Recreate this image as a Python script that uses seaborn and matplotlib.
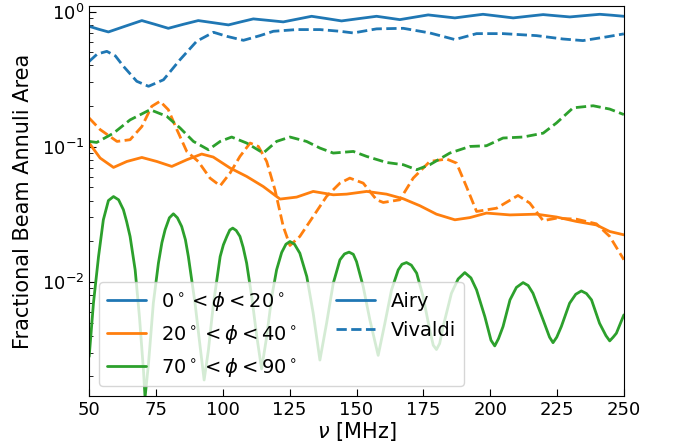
import matplotlib
matplotlib.use("Agg")
import matplotlib.pyplot as plt
from matplotlib.lines import Line2D
import seaborn as sns
import pandas as pd

# ---------------- data ----------------
# Airy, 0 < phi < 20
freq_airy_0_20 = [50.0, 53.6, 57.2, 63.5, 69.7, 74.6, 79.6, 85.2, 90.8, 96.5, 102.1,
                  106.8, 111.4, 117.0, 122.6, 127.9, 133.2, 138.8, 144.4, 151.0, 157.5,
                  161.9, 166.2, 171.5, 176.8, 181.8, 186.8, 192.0, 197.3, 203.0, 208.6,
                  214.2, 219.8, 224.8, 229.8, 235.4, 241.0, 245.5, 250.0]
airy_0_20 = [0.778, 0.740, 0.707, 0.780, 0.858, 0.805, 0.752, 0.805, 0.858, 0.827, 0.797,
             0.840, 0.883, 0.861, 0.839, 0.880, 0.923, 0.888, 0.853, 0.888, 0.923,
             0.897, 0.872, 0.908, 0.945, 0.921, 0.898, 0.926, 0.955, 0.926, 0.898,
             0.924, 0.950, 0.931, 0.913, 0.934, 0.955, 0.940, 0.923]

# Vivaldi, 0 < phi < 20
freq_viv_0_20 = [50.0, 53.0, 56.6, 59.8, 62.8, 67.8, 72.2, 77.8, 84.0, 90.2, 96.5, 101.5,
                 107.7, 113.9, 118.9, 127.6, 136.3, 143.8, 148.8, 157.5, 167.5, 177.4,
                 186.8, 194.9, 204.8, 217.3, 227.2, 234.7, 243.5, 250.0]
viv_0_20 = [0.428, 0.485, 0.508, 0.470, 0.394, 0.305, 0.280, 0.313, 0.441, 0.603, 0.703,
            0.656, 0.613, 0.664, 0.715, 0.736, 0.736, 0.715, 0.695, 0.745, 0.752, 0.695,
            0.621, 0.687, 0.687, 0.664, 0.627, 0.610, 0.650, 0.684]

# Airy, 20 < phi < 40
freq_airy_20_40 = [50.0, 54.1, 59.1, 64.1, 69.7, 75.3, 80.9, 86.5, 92.1, 96.4, 102.7,
                   108.9, 115.1, 121.4, 127.6, 133.8, 141.3, 146.3, 153.8, 161.2, 167.5,
                   173.7, 179.9, 186.8, 192.4, 198.6, 207.4, 217.3, 224.8, 232.3, 239.7,
                   244.7, 250.0]
airy_20_40 = [0.1065, 0.0825, 0.0703, 0.0778, 0.0833, 0.0778, 0.0715, 0.0801, 0.0883,
              0.0839, 0.0696, 0.0603, 0.0508, 0.0410, 0.0424, 0.0467, 0.0441, 0.0446,
              0.0467, 0.0446, 0.0412, 0.0366, 0.0317, 0.0288, 0.0299, 0.0323, 0.0313,
              0.0317, 0.0302, 0.0280, 0.0264, 0.0236, 0.0223]

# Vivaldi, 20 < phi < 40
freq_viv_20_40 = [50.0, 54.1, 60.4, 65.3, 69.7, 73.4, 76.5, 79.6, 82.8, 86.5, 90.8,
                  95.2, 99.0, 102.7, 106.4, 110.2, 113.3, 116.4, 119.5, 122.6, 125.1,
                  128.8, 133.8, 138.8, 143.8, 147.5, 152.5, 157.5, 160.0, 166.2, 171.2,
                  177.4, 183.7, 187.4, 191.1, 194.9, 202.4, 210.4, 214.8, 219.8, 224.8,
                  232.3, 239.7, 244.7, 250.0]
viv_20_40 = [0.163, 0.134, 0.1095, 0.1127, 0.141, 0.199, 0.217, 0.188, 0.134, 0.0923,
             0.0778, 0.0586, 0.0514, 0.0639, 0.0848, 0.1065, 0.1005, 0.0778, 0.048,
             0.0257, 0.0186, 0.0217, 0.0305, 0.0429, 0.0538, 0.0586, 0.0538, 0.0405,
             0.0387, 0.0405, 0.0586, 0.0778, 0.0811, 0.0757, 0.0508, 0.0332, 0.0351,
             0.0436, 0.0383, 0.0284, 0.0296, 0.0291, 0.0269, 0.0217, 0.0146]

# Airy, 70 < phi < 90
freq_airy_70_90 = [50.0, 51.6, 53.5, 55.3, 57.2, 59.1, 61.0, 62.8, 64.0, 65.3, 67.2,
                   68.8, 70.3, 70.9, 72.2, 74.0, 75.9, 77.2, 78.4, 80.0, 81.5, 83.0,
                   84.6, 86.0, 87.1, 89.6, 91.5, 93.0, 94.6, 96.5, 99.0, 100.2, 101.5,
                   102.6, 103.7, 105.0, 106.4, 107.6, 108.9, 110.8, 112.7, 114.5, 116.4,
                   118.3, 120.1, 122.0, 123.6, 125.1, 126.8, 128.8, 131.4, 133.8, 136.3,
                   138.8, 141.3, 143.8, 145.5, 147.2, 148.8, 150.0, 152.5, 155.0, 158.1,
                   160.6, 163.1, 165.6, 167.0, 168.7, 170.5, 172.5, 174.9, 177.4, 178.7,
                   179.9, 181.1, 182.4, 185.5, 188.0, 190.5, 192.8, 194.9, 198.0, 200.3,
                   201.7, 203.1, 204.8, 207.4, 209.8, 212.3, 214.2, 216.0, 219.8, 222.2,
                   223.5, 224.9, 226.6, 229.7, 232.0, 234.1, 236.0, 237.9, 240.9, 243.3,
                   244.7, 246.0, 247.2, 250.0]
airy_70_90 = [0.0028, 0.00697, 0.0154, 0.0288, 0.0400, 0.0428, 0.0405, 0.0342, 0.0280,
              0.0217, 0.01227, 0.00553, 0.00223, 0.0014, 0.0025, 0.00697, 0.01377, 0.0195,
              0.0243, 0.0298, 0.0319, 0.0298, 0.0257, 0.0205, 0.0154, 0.00695, 0.00332,
              0.00188, 0.00313, 0.00695, 0.0154, 0.0188, 0.0217, 0.0242, 0.0250, 0.0240,
              0.0217, 0.0180, 0.01377, 0.00778, 0.00394, 0.00227, 0.00394, 0.00778,
              0.01227, 0.0165, 0.0190, 0.0199, 0.0190, 0.0163, 0.01094, 0.00586, 0.00264,
              0.00494, 0.00977, 0.01456, 0.0161, 0.0166, 0.0160, 0.01413, 0.00923,
              0.00523, 0.00286, 0.00494, 0.00873, 0.01227, 0.0135, 0.0139, 0.0133, 0.0116,
              0.00778, 0.0044, 0.0034, 0.00316, 0.0035, 0.00467, 0.00824, 0.0105,
              0.01172, 0.0107, 0.00873, 0.00553, 0.0037, 0.00336, 0.0038, 0.00467,
              0.00736, 0.0091, 0.00988, 0.0094, 0.00824, 0.00523, 0.0039, 0.00355,
              0.0039, 0.00467, 0.00695, 0.0081, 0.00857, 0.0082, 0.00736, 0.00494,
              0.0040, 0.00366, 0.0039, 0.00417, 0.0057]

# Vivaldi, 70 < phi < 90
freq_viv_70_90 = [50.0, 52.8, 59.1, 65.3, 72.8, 79.0, 84.0, 89.0, 94.6, 99.0, 103.3,
                  108.9, 115.1, 120.1, 125.1, 131.3, 136.3, 141.3, 148.8, 153.8, 161.2,
                  167.5, 172.5, 177.4, 184.9, 192.4, 198.6, 204.8, 212.3, 219.8, 224.8,
                  231.0, 238.5, 244.7, 250.0]
viv_70_90 = [0.1095, 0.1076, 0.126, 0.158, 0.188, 0.168, 0.1376, 0.1095, 0.095, 0.1095,
             0.118, 0.1065, 0.0898, 0.1095, 0.118, 0.1095, 0.0978, 0.0898, 0.0923, 0.0848,
             0.0765, 0.0736, 0.0676, 0.0736, 0.0898, 0.1005, 0.1017, 0.116, 0.118, 0.126,
             0.150, 0.194, 0.201, 0.190, 0.173]

range_labels = [r"$0^\circ < \phi < 20^\circ$",
                r"$20^\circ < \phi < 40^\circ$",
                r"$70^\circ < \phi < 90^\circ$"]
beam_labels = ["Airy", "Vivaldi"]
colors = ["#1f77b4", "#ff7f0e", "#2ca02c"]

# ---------------- plotting ----------------
sns.set_style("ticks", {"xtick.direction": "in", "ytick.direction": "in",
                        "axes.edgecolor": "black", "text.color": "black",
                        "xtick.color": "black", "ytick.color": "black",
                        "axes.labelcolor": "black"})
plt.rcParams["font.family"] = ["DejaVu Sans"]
plt.rcParams["mathtext.fontset"] = "dejavusans"

fig, ax = plt.subplots(figsize=(6.73, 4.44), dpi=100)
fig.subplots_adjust(left=0.1325, right=0.927, top=0.9865, bottom=0.108)

series = [
    (freq_airy_0_20, airy_0_20, colors[0], "-"),
    (freq_viv_0_20, viv_0_20, colors[0], "--"),
    (freq_airy_20_40, airy_20_40, colors[1], "-"),
    (freq_viv_20_40, viv_20_40, colors[1], "--"),
    (freq_airy_70_90, airy_70_90, colors[2], "-"),
    (freq_viv_70_90, viv_70_90, colors[2], "--"),
]
for fx, fy, c, ls in series:
    df = pd.DataFrame({"f": fx, "v": fy})
    sns.lineplot(data=df, x="f", y="v", ax=ax, color=c, linestyle=ls, lw=2.0,
                 sort=False, estimator=None)

ax.set_yscale("log")
ax.set_xlim(50, 250)
ax.set_ylim(0.00143, 1.1)
ax.set_xlabel(r"$\nu$ [MHz]", fontsize=15, labelpad=1)
ax.set_ylabel("Fractional Beam Annuli Area", fontsize=15, labelpad=6)
ax.tick_params(axis="both", which="major", labelsize=13, direction="in", length=5,
               colors="black")
ax.tick_params(axis="y", which="minor", direction="in", length=3, colors="black")
for s in ax.spines.values():
    s.set_color("black")

handles = [Line2D([0], [0], color=c, lw=2.0) for c in colors]
handles += [Line2D([0], [0], color=colors[0], lw=2.0, ls="-"),
            Line2D([0], [0], color=colors[0], lw=2.0, ls="--")]
ax.legend(handles, range_labels + beam_labels, loc="lower left", ncol=2,
          fontsize=14, framealpha=0.8)

fig.savefig("out.png", dpi=100)
